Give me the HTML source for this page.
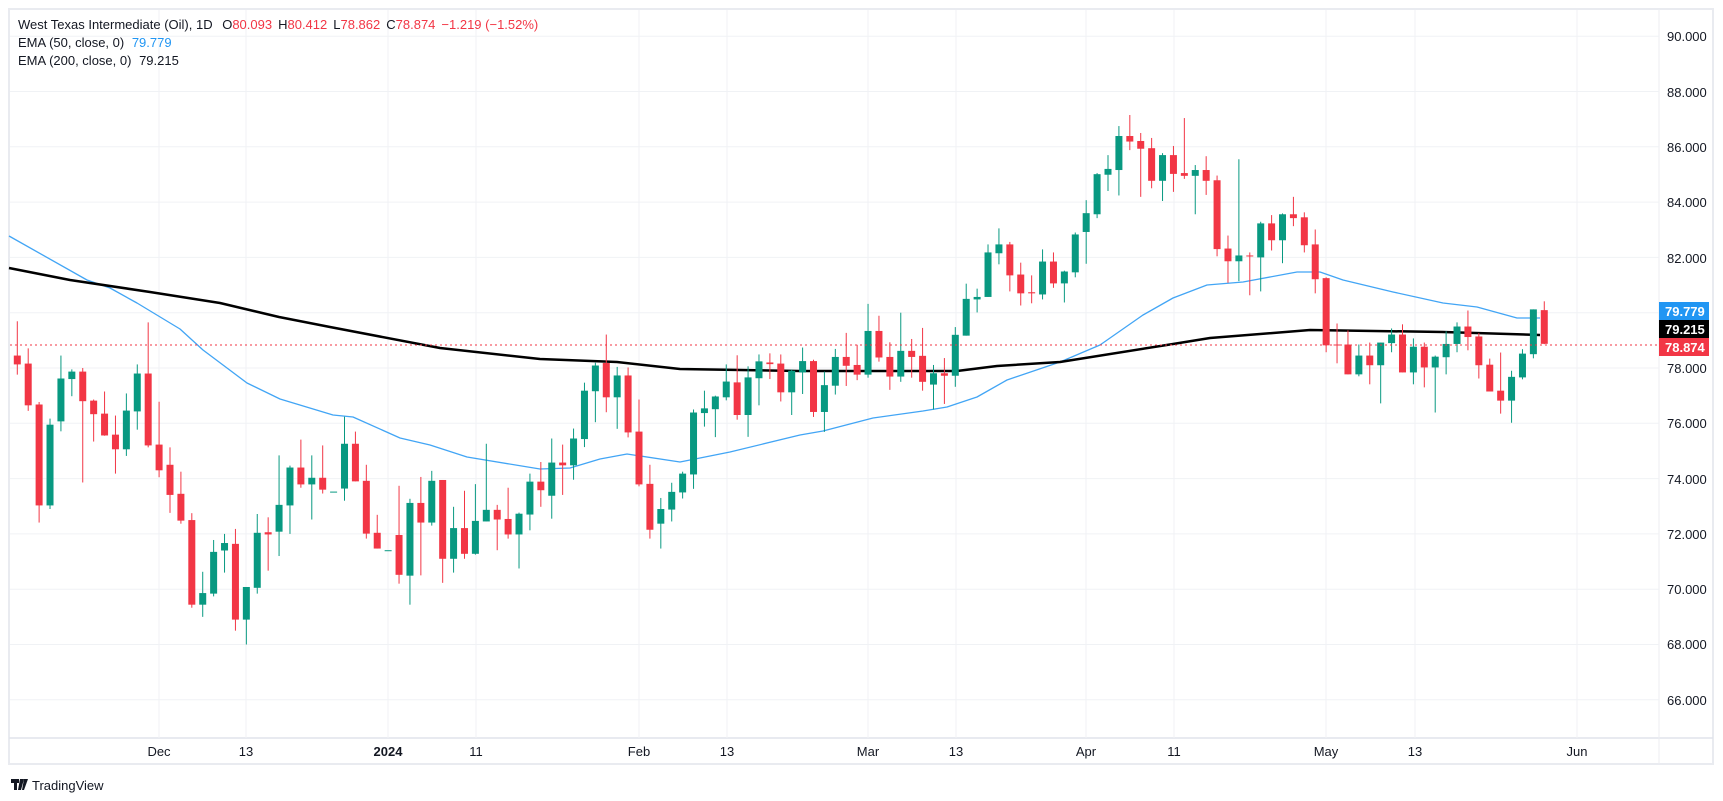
<!DOCTYPE html>
<html><head><meta charset="utf-8">
<style>
html,body{margin:0;padding:0;background:#fff;}
svg{display:block;font-family:"Liberation Sans",sans-serif;}
</style></head>
<body>
<svg id="c" width="1723" height="801" viewBox="0 0 1723 801" xmlns="http://www.w3.org/2000/svg">
<rect x="0" y="0" width="1723" height="801" fill="#fff"/>
<rect x="9" y="9" width="1704" height="755" fill="none" stroke="#e9ebf0" stroke-width="2"/>
<line x1="9" y1="738" x2="1713" y2="738" stroke="#e0e3eb" stroke-width="1.5"/>
<line x1="1659" y1="9" x2="1659" y2="764" stroke="#eceef2" stroke-width="1"/>
<g id="grid" stroke="#f0f2f5" stroke-width="1"></g>
<g id="ema"></g>
<g id="candles"></g>
<line x1="10" y1="345" x2="1659" y2="345" stroke="#f23645" stroke-width="1" stroke-dasharray="2,3"/>
<g font-size="13" fill="#131722">
<text x="1667" y="41">90.000</text>
<text x="1667" y="97">88.000</text>
<text x="1667" y="152">86.000</text>
<text x="1667" y="207">84.000</text>
<text x="1667" y="263">82.000</text>
<text x="1667" y="373">78.000</text>
<text x="1667" y="428">76.000</text>
<text x="1667" y="484">74.000</text>
<text x="1667" y="539">72.000</text>
<text x="1667" y="594">70.000</text>
<text x="1667" y="649">68.000</text>
<text x="1667" y="705">66.000</text>
</g>
<rect x="1659" y="302" width="50" height="18" fill="#2196f3"/>
<text x="1665" y="316" font-size="13" fill="#fff" font-weight="bold">79.779</text>
<rect x="1659" y="320" width="50" height="18" fill="#000"/>
<text x="1665" y="334" font-size="13" fill="#fff" font-weight="bold">79.215</text>
<rect x="1659" y="338" width="50" height="18" fill="#f23645"/>
<text x="1665" y="352" font-size="13" fill="#fff" font-weight="bold">78.874</text>
<g font-size="13" fill="#131722" text-anchor="middle">
<text x="159" y="756">Dec</text>
<text x="246" y="756">13</text>
<text x="388" y="756" font-weight="bold">2024</text>
<text x="476" y="756">11</text>
<text x="639" y="756">Feb</text>
<text x="727" y="756">13</text>
<text x="868" y="756">Mar</text>
<text x="956" y="756">13</text>
<text x="1086" y="756">Apr</text>
<text x="1174" y="756">11</text>
<text x="1326" y="756">May</text>
<text x="1415" y="756">13</text>
<text x="1577" y="756">Jun</text>
</g>
<g font-size="13" fill="#131722">
<text x="18" y="29">West Texas Intermediate (Oil), 1D <tspan dx="6">O</tspan><tspan fill="#f23645">80.093</tspan><tspan dx="6">H</tspan><tspan fill="#f23645">80.412</tspan><tspan dx="6">L</tspan><tspan fill="#f23645">78.862</tspan><tspan dx="6">C</tspan><tspan fill="#f23645">78.874</tspan><tspan dx="6" fill="#f23645">−1.219 (−1.52%)</tspan></text>
<text x="18" y="47">EMA (50, close, 0) <tspan dx="4" fill="#2196f3">79.779</tspan></text>
<text x="18" y="65">EMA (200, close, 0) <tspan dx="4">79.215</tspan></text>
</g>
<g fill="#131722">
<rect x="11" y="779" width="8" height="4"/><rect x="14" y="779" width="3" height="11"/>
<polygon points="20,779 24,779 21,790 18,790"/>
<polygon points="24,779 28,779 24,790 22,790"/>
<text x="32" y="790" font-size="13">TradingView</text>
</g>
</svg>
<script>
(function(){
var NS="http://www.w3.org/2000/svg";
function Y(p){return 368-(p-78)*27.65;}
function el(t,a,par){var e=document.createElementNS(NS,t);for(var k in a)e.setAttribute(k,a[k]);par.appendChild(e);return e;}
var g=document.getElementById('grid');
for(var p=66;p<=90;p+=2){var y=Y(p);el('line',{x1:10,x2:1659,y1:y,y2:y},g);}
[159,246,388,476,639,727,868,956,1086,1174,1326,1415,1577].forEach(function(x){el('line',{x1:x,x2:x,y1:10,y2:738},g);});
var d=[
[78.45,79.69,77.76,78.13],[78.16,78.71,76.45,76.65],[76.68,76.77,72.41,73.03],[73.03,76.17,72.9,75.95],[76.07,78.45,75.71,77.62],
[77.6,77.95,76.98,77.87],[77.87,78.0,73.86,76.8],[76.82,76.86,75.34,76.33],[76.35,77.15,75.55,75.56],[75.59,76.28,74.18,75.06],
[75.06,77.08,74.82,76.46],[76.43,78.13,75.77,77.8],[77.8,79.65,75.13,75.2],[75.23,76.78,74.05,74.3],[74.5,75.13,72.76,73.41],
[73.45,74.25,72.37,72.48],[72.5,72.75,69.33,69.44],[69.44,70.63,69.0,69.86],[69.84,71.78,69.74,71.35],[71.4,72.0,70.6,71.67],
[71.64,72.18,68.5,68.9],[68.9,70.08,68.0,70.08],[70.05,72.72,69.84,72.04],[72.06,72.6,70.67,71.98],[72.08,74.84,71.2,73.05],
[73.03,74.47,72.0,74.4],[74.4,75.41,73.67,73.79],[73.79,74.84,72.52,74.03],[74.03,75.2,73.46,73.6],[73.52,73.52,73.52,73.53],
[73.64,76.24,73.2,75.26],[75.26,75.7,73.9,73.9],[73.92,74.5,71.83,72.01],[72.04,72.69,71.47,71.47],[71.4,71.4,71.4,71.41],
[71.96,73.74,70.2,70.52],[70.49,73.27,69.44,73.12],[73.12,74.06,70.5,72.41],[72.41,74.28,72.3,73.92],[73.95,73.95,70.23,71.1],
[71.1,72.98,70.6,72.21],[72.21,73.56,71.1,71.28],[71.28,73.8,71.25,72.47],[72.45,75.26,72.45,72.87],[72.87,73.05,71.41,72.52],
[72.54,73.67,71.83,71.98],[71.98,72.77,70.75,72.73],[72.7,74.18,72.13,73.89],[73.89,74.6,72.98,73.58],[73.38,75.45,72.55,74.58],
[74.58,75.23,73.41,74.48],[74.48,75.81,73.96,75.45],[75.43,77.47,75.14,77.18],[77.16,78.19,76.04,78.09],[78.18,79.21,76.4,76.94],
[76.94,78.04,75.8,77.73],[77.73,78.02,75.49,75.67],[75.7,76.86,73.72,73.79],[73.81,74.5,71.83,72.15],[72.37,73.3,71.47,72.9],
[72.88,73.85,72.45,73.52],[73.5,74.25,73.28,74.18],[74.15,76.5,73.63,76.39],[76.37,77.18,75.88,76.54],[76.51,77.0,75.5,76.97],
[76.94,78.13,76.83,77.51],[77.48,78.46,76.13,76.3],[76.3,78.06,75.51,77.66],[77.63,78.49,76.65,78.24],[78.2,78.53,77.6,78.14],
[78.16,78.49,76.79,77.12],[77.12,77.95,76.3,77.9],[77.84,78.74,77.06,78.25],[78.25,78.3,76.23,76.41],[76.41,77.87,75.69,77.38],
[77.36,78.69,77.04,78.4],[78.4,79.27,77.35,78.08],[78.11,78.84,77.56,77.76],[77.76,80.32,77.65,79.34],[79.34,79.89,78.23,78.38],
[78.4,78.93,77.21,77.69],[77.69,80.0,77.5,78.62],[78.62,79.05,77.65,78.4],[78.44,79.45,77.18,77.5],[77.4,78.11,76.5,77.81],
[77.81,78.36,76.7,77.72],[77.72,79.48,77.32,79.2],[79.17,81.05,79.17,80.5],[80.48,80.87,80.01,80.57],[80.57,82.47,80.57,82.18],
[82.15,83.05,81.75,82.47],[82.47,82.56,80.77,81.35],[81.38,81.81,80.26,80.7],[80.74,81.35,80.34,80.7],[80.66,82.29,80.48,81.85],
[81.85,82.18,80.9,81.06],[81.06,81.52,80.37,81.49],[81.46,82.9,81.28,82.83],[82.92,84.07,81.77,83.6],[83.56,85.05,83.42,85.01],
[84.99,85.7,84.4,85.2],[85.16,86.75,84.24,86.39],[86.39,87.15,85.88,86.19],[86.21,86.5,84.19,85.93],[85.95,86.32,84.5,84.77],
[84.77,85.77,84.04,85.7],[85.7,86.03,84.37,85.02],[85.05,87.04,84.84,84.95],[84.95,85.34,83.56,85.16],[85.16,85.66,84.26,84.77],
[84.79,84.96,82.04,82.3],[82.32,82.79,81.08,81.86],[81.86,85.55,81.14,82.07],[82.07,82.18,80.63,82.04],[82.0,83.29,80.77,83.23],
[83.23,83.53,82.25,82.62],[82.62,83.59,81.79,83.56],[83.56,84.19,83.13,83.42],[83.45,83.63,82.18,82.44],[82.47,83.01,80.7,81.21],
[81.25,81.28,78.57,78.82],[78.85,79.61,78.17,78.82],[78.85,79.36,77.77,77.77],[77.77,78.85,77.7,78.45],[78.45,78.92,77.41,78.1],
[78.1,78.92,76.72,78.92],[78.9,79.43,78.57,79.21],[79.21,79.58,77.84,77.84],[77.84,79.07,77.41,78.77],[78.77,78.92,77.3,78.02],
[78.02,78.45,76.39,78.41],[78.39,79.33,77.77,78.87],[78.87,79.65,78.57,79.5],[79.5,80.08,78.64,79.12],[79.14,79.26,77.62,78.1],
[78.12,78.34,77.15,77.15],[77.18,78.56,76.35,76.82],[76.82,77.9,76.02,77.68],[77.66,78.68,77.59,78.52],[78.5,80.12,78.35,80.12],
[80.093,80.412,78.862,78.874]];
var cg=document.getElementById('candles');
d.forEach(function(c,i){
 var x=17.3+i*10.907, o=c[0],h=c[1],l=c[2],cl=c[3];
 var col=cl>=o?'#089981':'#f23645';
 el('line',{x1:x,x2:x,y1:Y(h),y2:Y(l),stroke:col,'stroke-width':1},cg);
 var t=Y(Math.max(o,cl)),b=Y(Math.min(o,cl));
 el('rect',{x:x-3.5,y:t,width:7,height:Math.max(1,b-t),fill:col},cg);
});
var eg=document.getElementById('ema');
var blk=[[9,268],[70,280],[150,292],[220,303],[279,317],[330,327],[440,348],[540,359],[617,362],[680,369],[800,371],[957,371],[997,366],[1060,362],[1173,344],[1210,338],[1310,330],[1443,332],[1540,335]];
var blu=[[9,236],[87,280],[110,288],[137,303],[180,329],[203,350],[223,365],[247,383],[280,399],[333,415],[353,417],[400,438],[430,445],[467,457],[540,469],[570,468],[600,459],[627,454],[680,462],[730,452],[800,435],[823,431],[873,418],[923,411],[947,407],[977,397],[1007,380],[1060,362],[1100,345],[1143,315],[1173,298],[1207,285],[1243,282],[1297,272],[1320,272],[1343,280],[1393,292],[1443,303],[1477,307],[1517,318],[1540,318]];
function pts(a){return a.map(function(p){return p[0]+','+p[1];}).join(' ');}
el('polyline',{points:pts(blu),fill:'none',stroke:'#42a5f5','stroke-width':1.3,'stroke-linejoin':'round'},eg);
el('polyline',{points:pts(blk),fill:'none',stroke:'#000','stroke-width':2.5,'stroke-linejoin':'round'},eg);
})();
</script>
</body></html>
